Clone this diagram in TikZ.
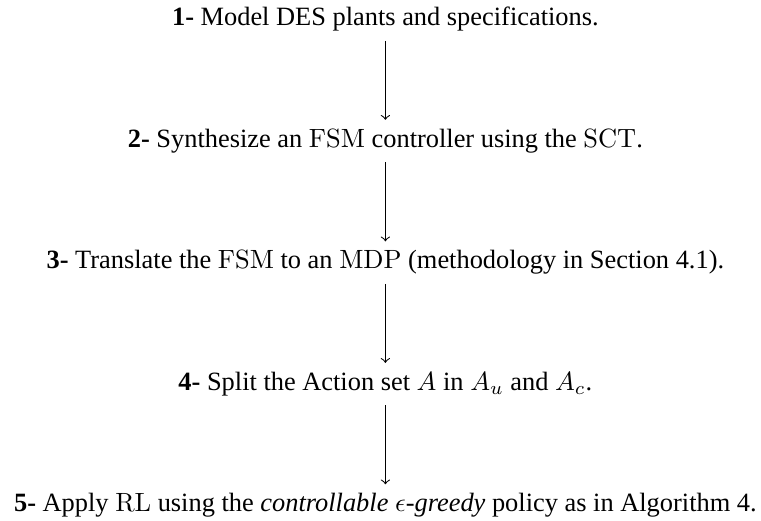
\documentclass[tikz,border=0pt]{standalone}
\usepackage[no-math]{fontspec}
\setmainfont{Liberation Serif}
\usetikzlibrary{positioning}

\begin{document}
\begin{tikzpicture}[node distance=1.05cm]
  \useasboundingbox (0,0) rectangle (288.3pt,-197.3pt);
  \node[anchor=base] (s1) at (146pt,-9.85pt) {\textbf{1-} Model DES plants and specifications.};
  \node[below=of s1] (s2) {\textbf{2-} Synthesize an $\mathrm{FSM}$ controller using the $\mathrm{SCT}$.};
  \node[below=of s2] (s3) {\textbf{3-} Translate the $\mathrm{FSM}$ to an $\mathrm{MDP}$ (methodology in Section 4.1).};
  \node[below=of s3] (s4) {\textbf{4-} Split the Action set $A$ in $A_u$ and $A_c$.};
  \node[below=of s4] (s5) {\textbf{5-} Apply $\mathrm{RL}$ using the \textit{controllable $\epsilon$-greedy} policy as in Algorithm 4.};
  \draw[->] (s1) -- (s2);
  \draw[->] (s2) -- (s3);
  \draw[->] (s3) -- (s4);
  \draw[->] (s4) -- (s5);
\end{tikzpicture}
\end{document}
